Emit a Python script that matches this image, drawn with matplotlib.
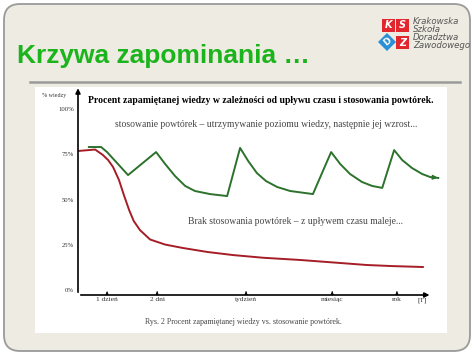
import matplotlib
matplotlib.use('Agg')
import matplotlib.pyplot as plt
from matplotlib.patches import FancyBboxPatch, Rectangle, RegularPolygon

# data (x: relative time position 0..100, y: % wiedzy)
red_x = [0, 4.9, 7.1, 8.6, 10, 11.7, 13.1, 14.6, 15.9, 17.7, 20.6, 24.9, 30, 37, 44.3, 53, 63.4, 73, 82.6, 90, 98.6]
red_y = [76.8, 77.6, 74.6, 71.8, 68, 60.8, 52.5, 44.2, 38.2, 33.1, 27.9, 25.1, 23.2, 21.0, 19.3, 17.8, 16.6, 15.2, 13.8, 13.2, 12.7]

green_x = [3.1, 6.6, 8.3, 14.3, 22.3, 24.9, 27.7, 30.6, 33.4, 37.7, 42.6,
           46.3, 48.6, 51.1, 53.7, 56.9, 60.6, 67.1,
           72.3, 74.9, 77.7, 81.1, 84, 86.9,
           90.3, 92.6, 95.4, 98.3, 100.6, 102.9]
green_y = [79, 79, 76.2, 63.5, 76.2, 69.6, 63, 57.5, 54.7, 53, 51.9,
           78.5, 71.3, 64.6, 60.2, 56.9, 54.7, 53,
           76.2, 69.6, 64.1, 59.7, 57.5, 56.4,
           77.3, 71.8, 67.4, 64.1, 62.4, 61.9]

ytick_vals = [0, 25, 50, 75, 100]
ytick_labels = ['0%', '25%', '50%', '75%', '100%']
xtick_vals = [8.3, 22.6, 48, 72.6, 91.1]
xtick_labels = ['1 dzień', '2 dni', 'tydzień', 'miesiąc', 'rok']

W, H = 474, 355
fig = plt.figure(figsize=(W / 100, H / 100), dpi=100)
fig.patch.set_facecolor('white')

# slide background
bg = fig.add_axes([0, 0, 1, 1])
bg.set_xlim(0, W)
bg.set_ylim(H, 0)
bg.axis('off')
bg.add_patch(FancyBboxPatch((4, 4), W - 8, H - 8, boxstyle='round,pad=0,rounding_size=16',
                            fc='#eeebe2', ec='#9a9a9a', lw=1.3))
bg.text(17, 63.5, 'Krzywa zapominania …', color='#1cb41c', fontsize=19, fontweight='bold',
        family='Liberation Sans', va='baseline', ha='left')
bg.plot([30, 460], [82, 82], color='#9a9a9a', lw=1.8)
bg.add_patch(Rectangle((35, 87), 412, 246, fc='white', ec='none'))

# logo
bg.add_patch(Rectangle((382, 19), 13, 13, fc='#e2262e', ec='none'))
bg.add_patch(Rectangle((396, 19), 13, 13, fc='#e2262e', ec='none'))
bg.add_patch(Rectangle((396, 36), 13, 13, fc='#e2262e', ec='none'))
bg.add_patch(RegularPolygon((387, 42), 4, radius=9, fc='#2a8fd4', ec='none'))
for tx, ty, s in [(388.5, 25.5, 'K'), (402.5, 25.5, 'S'), (402.5, 42.5, 'Z')]:
    bg.text(tx, ty, s, color='white', fontsize=7, fontweight='bold', style='italic',
            ha='center', va='center')
bg.text(387, 42, 'D', color='white', fontsize=6.5, fontweight='bold', ha='center', va='center', rotation=40)
bg.text(413, 17, 'Krakowska\nSzkoła\nDoradztwa\nZawodowego', color='#555555', fontsize=6.2,
        style='italic', ha='left', va='top', linespacing=0.85)

# chart
ax = fig.add_axes([78 / W, 1 - 295 / H, (440 - 78) / W, (295 - 88) / H])
ax.set_xlim(0, 103.4)
ax.set_ylim(-2.76, 111.6)
ax.patch.set_alpha(0)
for s in ax.spines.values():
    s.set_visible(False)

ax.plot(red_x, red_y, color='#a51d26', lw=1.4, solid_capstyle='round')
ax.plot(green_x, green_y, color='#2c722c', lw=1.4)
ax.annotate('', xy=(green_x[-1] + 0.6, green_y[-1]), xytext=(green_x[-2], green_y[-2]),
            arrowprops=dict(arrowstyle='-|>', color='#2c722c', lw=1.2, mutation_scale=6))

# axes arrows
ax.annotate('', xy=(101.2, -2.76), xytext=(0, -2.76), annotation_clip=False,
            arrowprops=dict(arrowstyle='-|>', color='black', lw=1.2, mutation_scale=7))
ax.annotate('', xy=(0, 113), xytext=(0, -2.76), annotation_clip=False,
            arrowprops=dict(arrowstyle='-|>', color='black', lw=1.2, mutation_scale=7))
for xv in xtick_vals:
    ax.annotate('', xy=(xv, 0.8), xytext=(xv, -2.76),
                arrowprops=dict(arrowstyle='-|>', color='black', lw=0.6, mutation_scale=4))

ax.set_yticks(ytick_vals, ytick_labels, family='Liberation Serif', fontsize=4.8, color='#333333')
ax.set_xticks(xtick_vals + [98.3], xtick_labels + ['[T]'], family='Liberation Serif',
              fontsize=5.3, color='#333333')
ax.tick_params(length=0, pad=3)
ax.tick_params(axis='x', pad=1.5)

ax.text(52.3, 104.5, 'Procent zapamiętanej wiedzy w zależności od upływu czasu i stosowania powtórek.',
        family='Liberation Serif', fontweight='bold', fontsize=7.0, ha='center', va='center')
ax.text(53.7, 91.5, 'stosowanie powtórek – utrzymywanie poziomu wiedzy, następnie jej wzrost...',
        family='Liberation Serif', fontsize=6.9, color='#444444', ha='center', va='center')
ax.text(62.1, 38.1, 'Brak stosowania powtórek – z upływem czasu maleje...',
        family='Liberation Serif', fontsize=6.9, color='#444444', ha='center', va='center')

bg.text(54, 95, '% wiedzy', family='Liberation Serif', fontsize=4.3, color='#333333',
        ha='center', va='center')
bg.text(243, 322, 'Rys. 2 Procent zapamiętanej wiedzy vs. stosowanie powtórek.',
        family='Liberation Serif', fontsize=5.7, color='#444444', ha='center', va='center')

fig.savefig('out.png', dpi=100)
